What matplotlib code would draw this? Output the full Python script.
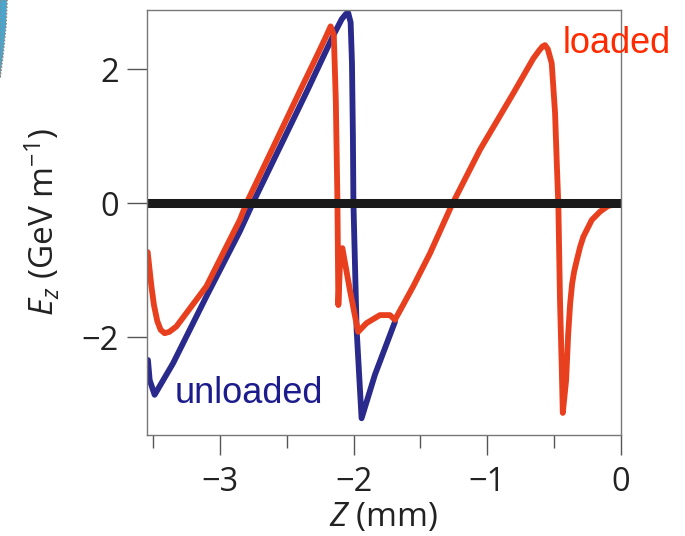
import numpy as np
import matplotlib
matplotlib.use('Agg')
import matplotlib.pyplot as plt
from matplotlib.patches import Polygon

# wakefield on axis, z in mm, Ez in GeV/m
z_unloaded = [-3.540, -3.527, -3.490, -3.352, -3.102, -2.852, -2.755, -2.352,
              -2.153, -2.088, -2.055, -2.040, -2.022, -2.012, -2.005, -2.001,
              -1.977, -1.940, -1.840, -1.690]
ez_unloaded = [-2.34, -2.64, -2.86, -2.39, -1.39, -0.42, 0.0, 1.66,
               2.50, 2.75, 2.83, 2.84, 2.70, 2.10, 1.00, 0.0,
               -1.89, -3.21, -2.56, -1.77]

z_loaded = [-3.542, -3.530, -3.514, -3.495, -3.470, -3.445, -3.415, -3.380,
            -3.327, -3.102, -2.852,
            -2.802, -2.403, -2.277, -2.208, -2.172, -2.148, -2.133, -2.121,
            -2.114, -2.099, -2.084, -2.028, -1.966, -1.903, -1.803, -1.728,
            -1.690, -1.553, -1.428, -1.265, -1.053, -0.804, -0.654, -0.610,
            -0.585, -0.566, -0.545, -0.516, -0.491, -0.478, -0.466, -0.454,
            -0.441, -0.433,
            -0.408, -0.393, -0.378, -0.363, -0.348, -0.328, -0.303, -0.279,
            -0.216, -0.154, -0.094, 0.0]
ez_loaded = [-0.73, -0.95, -1.24, -1.52, -1.76, -1.89, -1.94, -1.92,
             -1.84, -1.24, -0.25,
             0.0, 1.67, 2.19, 2.48, 2.64, 2.51, 1.54, 0.05,
             -1.52, -0.77, -0.67, -1.29, -1.92, -1.79, -1.67, -1.67,
             -1.74, -1.24, -0.75, -0.03, 0.80, 1.64, 2.16, 2.28,
             2.34, 2.36, 2.30, 2.09, 1.35, 0.60, -0.05, -1.44,
             -2.44, -3.13,
             -2.64, -1.97, -1.50, -1.20, -1.02, -0.85, -0.65, -0.50,
             -0.25, -0.125, -0.04, 0.0]

xticks = [-3, -2, -1, 0]
yticks = [-2, 0, 2]

blue = '#2a2a8c'
red = '#e8401e'

plt.rcParams['font.family'] = ['Open Sans', 'DejaVu Sans']
plt.rcParams['mathtext.fontset'] = 'custom'
plt.rcParams['mathtext.rm'] = 'Open Sans'
plt.rcParams['mathtext.it'] = 'Open Sans:italic'

fig = plt.figure(figsize=(6.85, 5.36), dpi=100)
ax = fig.add_axes([0.215, 0.1884, 0.691, 0.793])

ax.plot(z_unloaded, ez_unloaded, color=blue, lw=4.2, solid_joinstyle='round',
        solid_capstyle='round')
ax.plot(z_loaded, ez_loaded, color=red, lw=4.2, solid_joinstyle='round',
        solid_capstyle='round')
ax.axhline(0, color='#1a1a1a', lw=6.5)

ax.set_xlim(-3.545, 0.0)
ax.set_ylim(-3.46, 2.885)
ax.set_xticks(xticks)
ax.set_xticklabels(['\u22123', '\u22122', '\u22121', '0'])
ax.set_xticks([-3.5, -2.5, -1.5, -0.5], minor=True)
ax.set_yticks(yticks)
ax.set_yticklabels(['\u22122', '0', '2'])

for s in ax.spines.values():
    s.set_color('#777777')
    s.set_linewidth(1.0)
ax.tick_params(axis='both', which='major', length=14.5, width=1.0,
               color='#555555', labelsize=23.5, pad=6, labelcolor='#222222')
ax.tick_params(axis='x', which='major', pad=8)
ax.tick_params(axis='x', which='minor', length=9.5, width=1.0, color='#555555')

ax.set_xlabel(r'$Z$ (mm)', fontsize=24, color='#222222', labelpad=1)
ax.set_ylabel(r'$E_z$ (GeV m$^{-1}$)', fontsize=24, color='#222222', labelpad=14)

ax.text(-0.431, 2.243, 'loaded', color='#ff2a00', fontsize=26,
        family='Liberation Sans', va='baseline', ha='left', clip_on=False)
ax.text(-3.34, -2.98, 'unloaded', color='#1c1c8c', fontsize=26,
        family='Liberation Sans', va='baseline', ha='left')

# sliver of the neighbouring panel at the top-left corner
W, H = 685.0, 536.0
pts = [(0, 0), (7, 0), (6, 25), (3, 55), (0, 78)]
fig.patches.append(Polygon([(x / W, 1 - y / H) for x, y in pts],
                           closed=True, transform=fig.transFigure,
                           facecolor='#4aa6cf', edgecolor='#888888',
                           linestyle=(0, (1, 1)), lw=1.2))

fig.savefig('out.png', dpi=100)
